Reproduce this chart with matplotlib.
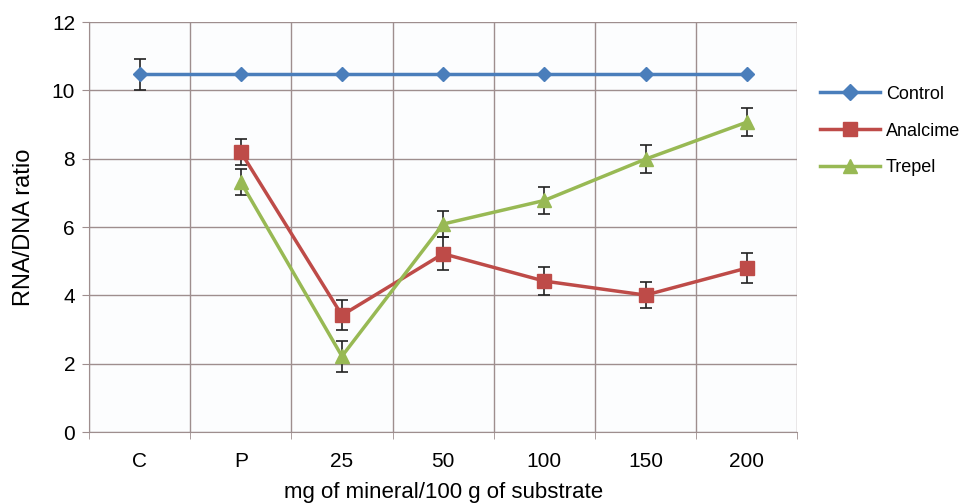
import numpy as np
import matplotlib.pyplot as plt
from matplotlib.lines import Line2D

plt.rcParams['font.family'] = ['Liberation Sans', 'DejaVu Sans']

categories = ["C", "P", "25", "50", "100", "150", "200"]
control = [10.47, 10.47, 10.47, 10.47, 10.47, 10.47, 10.47]
control_err = [0.45, 0, 0, 0, 0, 0, 0]
analcime = [8.2, 3.42, 5.22, 4.42, 4.01, 4.8]
analcime_err = [0.37, 0.44, 0.48, 0.4, 0.38, 0.43]
trepel = [7.32, 2.22, 6.09, 6.78, 7.99, 9.07]
trepel_err = [0.38, 0.46, 0.38, 0.4, 0.41, 0.41]

grid_col = "#9e8e8e"

fig = plt.figure(figsize=(9.65, 5.03), dpi=100)
ax = fig.add_axes([0.0922, 0.141, 0.734, 0.815])
ax.set_facecolor("#fcfdfe")

x = np.arange(len(categories))
xs = x[1:]

ax.errorbar(x, control, yerr=control_err, color="#4a7ebb", lw=2.5, marker="D", ms=7,
            ecolor="#222222", elinewidth=1.2, capsize=4, capthick=1.2)
ax.errorbar(xs, analcime, yerr=analcime_err, color="#be4b48", lw=2.5, marker="s", ms=10,
            ecolor="#222222", elinewidth=1.2, capsize=4, capthick=1.2)
ax.errorbar(xs, trepel, yerr=trepel_err, color="#98b954", lw=2.5, marker="^", ms=10,
            ecolor="#222222", elinewidth=1.2, capsize=4, capthick=1.2)

ax.set_xlim(-0.5, len(categories) - 0.5)
ax.set_ylim(0, 12)
ax.set_yticks(range(0, 13, 2))
ax.set_xticks(x)
ax.set_xticklabels(categories)
ax.set_xticks(np.arange(-0.5, len(categories), 1), minor=True)
ax.tick_params(axis="x", which="major", length=0, labelsize=15, pad=14)
ax.tick_params(axis="x", which="minor", length=5, color=grid_col, direction="out")
ax.tick_params(axis="y", length=5, color=grid_col, labelsize=15, pad=5)

ax.grid(True, axis="y", which="major", color=grid_col, lw=1)
ax.grid(True, axis="x", which="minor", color=grid_col, lw=1)
ax.set_axisbelow(True)

for s in ["top", "right"]:
    ax.spines[s].set_visible(False)
ax.spines["left"].set_color(grid_col)
ax.spines["bottom"].set_color(grid_col)

ax.set_ylabel("RNA/DNA ratio", fontsize=17, labelpad=12)
ax.set_xlabel("mg of mineral/100 g of substrate", fontsize=16, labelpad=8)

handles = [
    Line2D([], [], color="#4a7ebb", lw=2.5, marker="D", ms=8),
    Line2D([], [], color="#be4b48", lw=2.5, marker="s", ms=10),
    Line2D([], [], color="#98b954", lw=2.5, marker="^", ms=10),
]
fig.legend(handles, ["Control", "Analcime", "Trepel"], loc="upper left",
           bbox_to_anchor=(0.833, 0.862), frameon=False, fontsize=13,
           handlelength=3.3, labelspacing=1.1, handletextpad=0.35)

fig.savefig("out.png", dpi=100)
